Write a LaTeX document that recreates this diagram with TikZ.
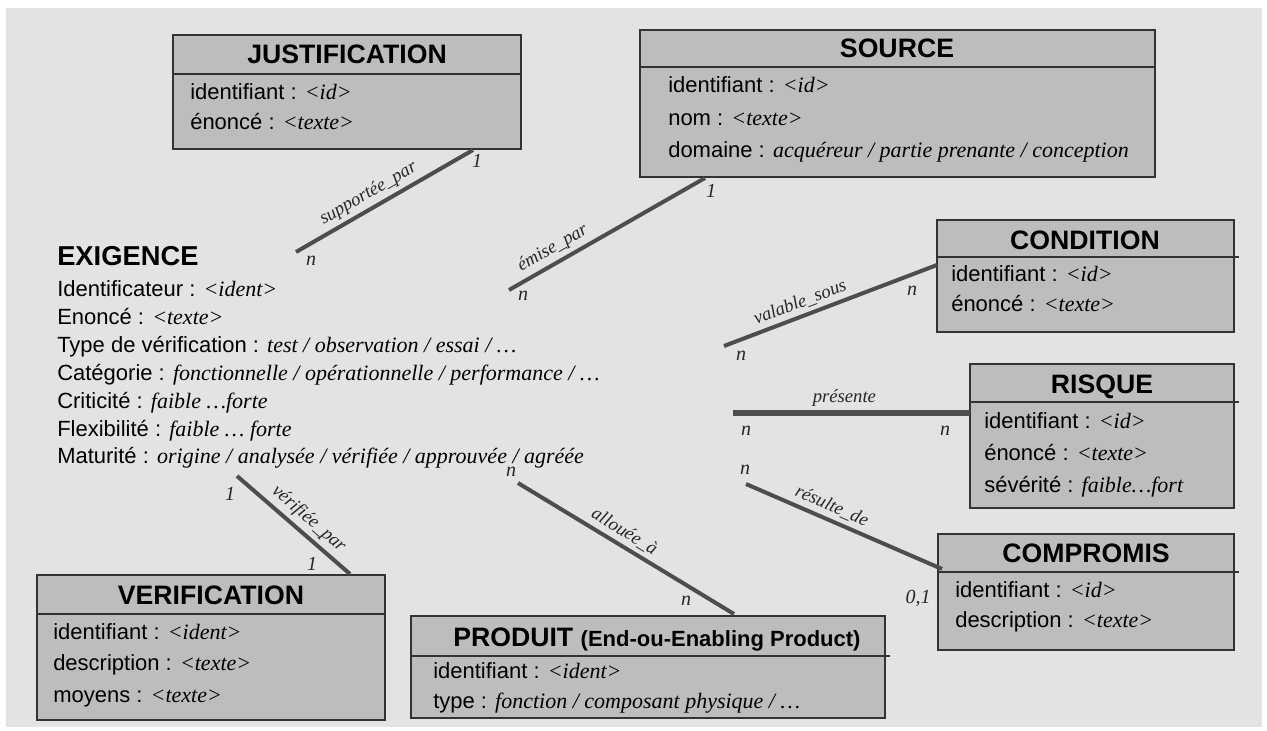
\documentclass[tikz,border=0pt]{standalone}
\usepackage{fontspec}
\setmainfont{Liberation Sans}
\newfontfamily\tms{Liberation Serif}
\usetikzlibrary{fit}
\definecolor{bgcol}{HTML}{E3E3E3}
\definecolor{boxfill}{HTML}{BDBDBD}
\definecolor{boxline}{HTML}{333333}
\definecolor{linkcol}{HTML}{4D4D4D}
\newcommand{\ival}[1]{{\tms\itshape #1}}
\begin{document}
\begin{tikzpicture}[x=0.75pt,y=-0.75pt,
  box/.style={draw=boxline, fill=boxfill, line width=1.5pt, inner sep=0pt},
  divline/.style={draw=boxline, line width=1.5pt},
  btitle/.style={font=\fontsize{20}{24}\selectfont\bfseries, anchor=base, inner sep=0pt},
  attr/.style={font=\fontsize{16.5}{20}\selectfont, anchor=base west, inner sep=0pt},
  link/.style={draw=linkcol, line width=3pt},
  rel/.style={font=\fontsize{14}{16}\selectfont\tms\itshape, sloped, above, inner sep=3pt, text=black!85},
  card/.style={font=\fontsize{15}{17}\selectfont\tms\itshape, inner sep=0pt, text=black!85}
]
\useasboundingbox (0,0) rectangle (1267,731);
\fill[white] (0,0) rectangle (1267,731);
\fill[bgcol] (6,8) rectangle (1262,727);

% JUSTIFICATION
\node[box, fit={(173,35) (521,149)}] (just) {};
\draw[divline] (just.west |- 0,74) -- (just.east |- 0,74);
\node[btitle] (justT) at (347,64) {JUSTIFICATION};
\node[attr] (just1) at (190,100) {identifiant : \ival{<id>}};
\node[attr] (just2) at (190,130) {énoncé : \ival{<texte>}};

% SOURCE
\node[box, fit={(640,30) (1155,177)}] (src) {};
\draw[divline] (src.west |- 0,67) -- (src.east |- 0,67);
\node[btitle] (srcT) at (897,58) {SOURCE};
\node[attr] (src1) at (668,93) {identifiant : \ival{<id>}};
\node[attr] (src2) at (668,126) {nom : \ival{<texte>}};
\node[attr] (src3) at (668,158) {domaine : \ival{acquéreur / partie prenante / conception}};

% CONDITION
\node[box, fit={(937,220) (1234,332)}] (cond) {};
\draw[divline] (cond.west |- 0,257) -- ([xshift=3pt]cond.east |- 0,257);
\node[btitle] (condT) at (1085,249) {CONDITION};
\node[attr] (cond1) at (951,281) {identifiant : \ival{<id>}};
\node[attr] (cond2) at (951,311) {énoncé : \ival{<texte>}};

% RISQUE
\node[box, fit={(970,364) (1234,508)}] (risq) {};
\draw[divline] (risq.west |- 0,402) -- ([xshift=3pt]risq.east |- 0,402);
\node[btitle] (risqT) at (1102,393) {RISQUE};
\node[attr] (risq1) at (984,428) {identifiant : \ival{<id>}};
\node[attr] (risq2) at (984,460) {énoncé : \ival{<texte>}};
\node[attr] (risq3) at (984,492) {sévérité : \ival{faible…fort}};

% COMPROMIS
\node[box, fit={(938,534) (1234,650)}] (comp) {};
\draw[divline] (comp.west |- 0,572) -- ([xshift=3pt]comp.east |- 0,572);
\node[btitle] (compT) at (1086,562) {COMPROMIS};
\node[attr] (comp1) at (955,597) {identifiant : \ival{<id>}};
\node[attr] (comp2) at (955,627) {description : \ival{<texte>}};

% VERIFICATION
\node[box, fit={(37,575) (385,720)}] (verif) {};
\draw[divline] (verif.west |- 0,614) -- (verif.east |- 0,614);
\node[btitle] (verifT) at (211,604) {VERIFICATION};
\node[attr] (verif1) at (53,639) {identifiant : \ival{<ident>}};
\node[attr] (verif2) at (53,670) {description : \ival{<texte>}};
\node[attr] (verif3) at (53,702) {moyens : \ival{<texte>}};

% PRODUIT
\node[box, fit={(411,616) (885,718)}] (prod) {};
\draw[divline] (prod.west |- 0,656) -- ([xshift=3pt]prod.east |- 0,656);
\node[btitle, anchor=base west] (prodT) at (453,646) {PRODUIT {\fontsize{16.5}{18}\selectfont (End-ou-Enabling Product)}};
\node[attr] (prod1) at (433,678) {identifiant : \ival{<ident>}};
\node[attr] (prod2) at (433,708) {type : \ival{fonction / composant physique / …}};

% EXIGENCE
\node[font=\fontsize{20.5}{24}\selectfont\bfseries, anchor=base west, inner sep=0pt] (exi) at (57,265) {EXIGENCE};
\node[attr] (exi1) at (57,296) {Identificateur : \ival{<ident>}};
\node[attr] (exi2) at (57,324) {Enoncé : \ival{<texte>}};
\node[attr] (exi3) at (57,352) {Type de vérification : \ival{test / observation / essai / …}};
\node[attr] (exi4) at (57,380) {Catégorie : \ival{fonctionnelle / opérationnelle / performance / …}};
\node[attr] (exi5) at (57,408) {Criticité : \ival{faible …forte}};
\node[attr] (exi6) at (57,436) {Flexibilité : \ival{faible … forte}};
\node[attr] (exi7) at (57,463) {Maturité : \ival{origine / analysée / vérifiée / approuvée / agréée}};

% connector end points
\coordinate (xJ) at (296,252);  \coordinate (eJ) at (473,150);
\coordinate (xS) at (509,290);  \coordinate (eS) at (705,178);
\coordinate (xC) at (724,346);  \coordinate (eC) at (937,265);
\coordinate (xR) at (733,413);  \coordinate (eR) at (970,413);
\coordinate (xV) at (237,476);  \coordinate (eV) at (350,574);
\coordinate (xP) at (518,483);  \coordinate (eP) at (734,614);
\coordinate (xK) at (746,484);  \coordinate (eK) at (942,569);

\draw[link] (xJ) -- node[rel, pos=0.45] {supportée\_par} (eJ);
\draw[link] (xS) -- node[rel, pos=0.26] {émise\_par} (eS);
\draw[link] (xC) -- node[rel, pos=0.38] {valable\_sous} (eC);
\draw[link, line width=4.5pt] (xR) -- node[rel, pos=0.47] {présente} (eR);
\draw[link] (xV) -- node[rel, pos=0.55] {vérifiée\_par} (eV);
\draw[link] (xP) -- node[rel, pos=0.46] {allouée\_à} (eP);
\draw[link] (xK) -- node[rel, pos=0.41] {résulte\_de} (eK);

% cardinalities
\node[card] (cJ1) at (477,161) {1};
\node[card] (cJn) at (311,261) {n};
\node[card] (cS1) at (711,191) {1};
\node[card] (cSn) at (523,296) {n};
\node[card] (cCn) at (912,291) {n};
\node[card] (cCx) at (741,356) {n};
\node[card] (cRx) at (746,431) {n};
\node[card] (cRn) at (945,431) {n};
\node[card] (cV1) at (230,494) {1};
\node[card] (cV2) at (312,564) {1};
\node[card] (cPx) at (511,472) {n};
\node[card] (cPn) at (686,601) {n};
\node[card] (cKx) at (745,470) {n};
\node[card] (cKn) at (918,598) {0,1};
\end{tikzpicture}
\end{document}
